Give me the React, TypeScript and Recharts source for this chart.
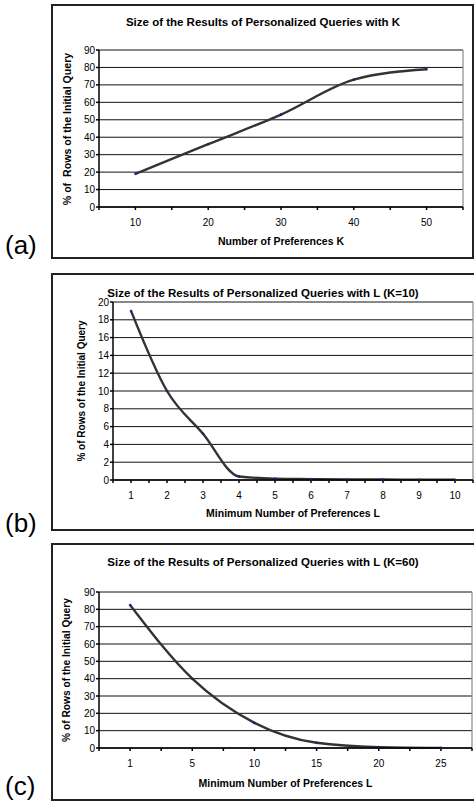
import React from 'react';
import { LineChart, Line, XAxis, YAxis, CartesianGrid, ReferenceLine } from 'recharts';

// ---- data ----
const kCategories = ['10', '20', '30', '40', '50'];
const kValues = [19, 36, 53, 73, 79];
const kYTicks = [0, 10, 20, 30, 40, 50, 60, 70, 80, 90];

const lK10Categories = ['1', '2', '3', '4', '5', '6', '7', '8', '9', '10'];
const lK10Values = [19, 10, 5.2, 0.4, 0.15, 0.1, 0.06, 0.05, 0.04, 0.03];
const lK10YTicks = [0, 2, 4, 6, 8, 10, 12, 14, 16, 18, 20];

const lK60Categories = ['1', '5', '10', '15', '20', '25'];
const lK60Values = [82.5, 40, 14.5, 3, 0.5, 0.1];
const lK60YTicks = [0, 10, 20, 30, 40, 50, 60, 70, 80, 90];

const FONT = '"Liberation Sans", Arial, sans-serif';
const PAGE_W = 474;

type PanelProps = {
  letter: string;
  letterTop: number;
  boxTop: number;
  boxBottom: number;
  boxRight: number;
  plotLeft: number;
  plotRight: number;
  plotTop: number;
  plotBottom: number;
  title: string;
  titleY: number;
  xLabel: string;
  xLabelY: number;
  yLabel: string;
  yLabelX: number;
  yLabelSize: number;
  categories: string[];
  values: number[];
  yTicks: number[];
};

function Panel(p: PanelProps) {
  const data = p.categories.map((c, i) => ({ x: i + 1, label: c, value: p.values[i] }));
  const n = p.categories.length;
  const xTicks: number[] = [];
  for (let i = 0; i <= 2 * n; i++) xTicks.push(0.5 + i * 0.5);
  const yMax = p.yTicks[p.yTicks.length - 1];
  const boxH = p.boxBottom - p.boxTop;
  const yAxisW = 40;
  const xAxisH = 30;
  const margin = {
    top: p.plotTop - p.boxTop,
    left: p.plotLeft - yAxisW,
    right: PAGE_W - p.plotRight,
    bottom: p.boxBottom - p.plotBottom - xAxisH,
  };
  const plotCx = (p.plotLeft + p.plotRight) / 2;
  const plotCy = (p.plotTop + p.plotBottom) / 2;
  return (
    <>
      <div
        style={{
          position: 'absolute',
          left: 51,
          top: p.boxTop,
          width: p.boxRight - 51,
          height: boxH,
          border: '2px solid #222',
          boxSizing: 'border-box',
        }}
      />
      <div style={{ position: 'absolute', left: 0, top: p.boxTop }}>
        <LineChart width={PAGE_W} height={boxH} data={data} margin={margin}>
          <CartesianGrid vertical={false} stroke="#111" strokeWidth={1} />
          <ReferenceLine y={yMax} stroke="#8a8a8a" strokeWidth={1.2} />
          <ReferenceLine x={n + 0.5} stroke="#8a8a8a" strokeWidth={1.2} />
          <XAxis
            dataKey="x"
            type="number"
            domain={[0.5, n + 0.5]}
            ticks={xTicks}
            interval={0}
            allowDataOverflow
            height={xAxisH}
            tickFormatter={(v: number) => (Number.isInteger(v) ? p.categories[v - 1] : '')}
            stroke="#000"
            strokeWidth={1.5}
            tickSize={3}
            tickMargin={9}
            tick={{ fill: '#000', fontSize: 10, fontFamily: FONT }}
          />
          <YAxis
            type="number"
            domain={[0, yMax]}
            ticks={p.yTicks}
            interval={0}
            width={yAxisW}
            stroke="#000"
            strokeWidth={1.5}
            tickSize={3}
            tickMargin={1}
            tick={{ fill: '#000', fontSize: 10, fontFamily: FONT }}
          />
          <Line
            type="monotone"
            dataKey="value"
            stroke="#333"
            strokeWidth={2.4}
            dot={{ r: 1, fill: '#1a1a80', stroke: '#1a1a80', strokeWidth: 0.5 }}
            isAnimationActive={false}
          />
        </LineChart>
      </div>
      <div
        style={{
          position: 'absolute',
          left: 0,
          width: 526,
          top: p.titleY - 7,
          height: 14,
          lineHeight: '14px',
          textAlign: 'center',
          fontFamily: FONT,
          fontWeight: 'bold',
          fontSize: 11.5,
          color: '#000',
          whiteSpace: 'pre',
        }}
      >
        {p.title}
      </div>
      <div
        style={{
          position: 'absolute',
          left: plotCx - 150,
          width: 300,
          top: p.xLabelY - 7,
          height: 14,
          lineHeight: '14px',
          textAlign: 'center',
          fontFamily: FONT,
          fontWeight: 'bold',
          fontSize: 10.5,
          color: '#000',
          whiteSpace: 'pre',
        }}
      >
        {p.xLabel}
      </div>
      <div
        style={{
          position: 'absolute',
          left: p.yLabelX - 100,
          width: 200,
          top: plotCy - 7,
          height: 14,
          lineHeight: '14px',
          textAlign: 'center',
          fontFamily: FONT,
          fontWeight: 'bold',
          fontSize: p.yLabelSize,
          color: '#000',
          whiteSpace: 'pre',
          transform: 'rotate(-90deg)',
        }}
      >
        {p.yLabel}
      </div>
      <div
        style={{
          position: 'absolute',
          left: 5,
          top: p.letterTop,
          fontFamily: FONT,
          fontSize: 26,
          lineHeight: '26px',
          color: '#000',
        }}
      >
        {p.letter}
      </div>
    </>
  );
}

export default function App() {
  return (
    <div
      style={{
        position: 'absolute',
        left: 0,
        top: 0,
        width: PAGE_W,
        height: 802,
        background: '#fff',
        overflow: 'hidden',
      }}
    >
      <Panel
        letter="(a)"
        letterTop={232}
        boxTop={4}
        boxBottom={259}
        boxRight={474}
        plotLeft={99}
        plotRight={463}
        plotTop={50}
        plotBottom={207}
        title="Size of the Results of Personalized Queries with K"
        titleY={22}
        xLabel="Number of Preferences K"
        xLabelY={241}
        yLabel="% of  Rows of the Initial Query"
        yLabelX={67}
        yLabelSize={10.6}
        categories={kCategories}
        values={kValues}
        yTicks={kYTicks}
      />
      <Panel
        letter="(b)"
        letterTop={510}
        boxTop={273}
        boxBottom={531}
        boxRight={477}
        plotLeft={113}
        plotRight={473}
        plotTop={302}
        plotBottom={480}
        title="Size of the Results of Personalized Queries with L (K=10)"
        titleY={293}
        xLabel="Minimum Number of Preferences L"
        xLabelY={513}
        yLabel="% of Rows of the Initial Query"
        yLabelX={82}
        yLabelSize={10}
        categories={lK10Categories}
        values={lK10Values}
        yTicks={lK10YTicks}
      />
      <Panel
        letter="(c)"
        letterTop={773}
        boxTop={543}
        boxBottom={801}
        boxRight={477}
        plotLeft={99}
        plotRight={472}
        plotTop={592}
        plotBottom={748}
        title="Size of the Results of Personalized Queries with L (K=60)"
        titleY={562}
        xLabel="Minimum Number of Preferences L"
        xLabelY={783}
        yLabel="% of Rows of the Initial Query"
        yLabelX={67}
        yLabelSize={10.2}
        categories={lK60Categories}
        values={lK60Values}
        yTicks={lK60YTicks}
      />
    </div>
  );
}
